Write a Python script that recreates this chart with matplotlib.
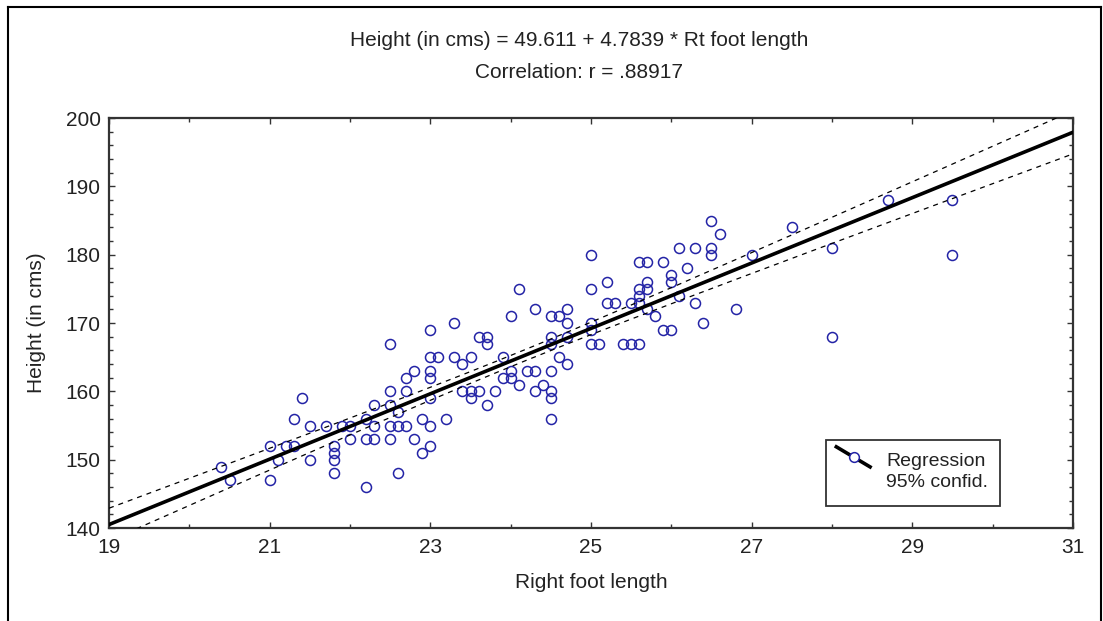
import numpy as np
import matplotlib
matplotlib.use("Agg")
import matplotlib.pyplot as plt
from matplotlib.lines import Line2D
from matplotlib.patches import Rectangle
from matplotlib.ticker import MultipleLocator

# ---- data ----
foot_length = [
    20.4, 20.5, 21.0, 21.0, 21.1, 21.2, 21.3, 21.3, 21.4, 21.5, 21.5, 21.7, 21.8, 21.8, 21.8, 21.8,
    21.9, 22.0, 22.0,
    22.2, 22.2, 22.2, 22.3, 22.3, 22.3, 22.5, 22.5, 22.5, 22.5, 22.5, 22.6, 22.6, 22.6,
    22.7, 22.7, 22.7, 22.8, 22.8, 22.9, 22.9, 23.0, 23.0, 23.0, 23.0, 23.0, 23.0, 23.0,
    23.1, 23.2, 23.3, 23.3, 23.4, 23.5, 23.4, 23.5, 23.5, 23.6, 23.6, 23.7, 23.7, 23.7,
    23.8, 23.9, 23.9, 24.0, 24.0, 24.0, 24.1, 24.1, 24.2, 24.3, 24.3, 24.3, 24.4,
    24.5, 24.5, 24.5, 24.5, 24.5, 24.5, 24.5, 24.6, 24.6, 24.7, 24.7, 24.7, 24.7,
    25.0, 25.0, 25.0, 25.0, 25.0, 25.1, 25.2, 25.2, 25.3, 25.4, 25.5, 25.5, 25.6, 25.6,
    25.7, 25.6, 25.6, 25.6, 25.7, 25.7, 25.7, 25.8, 25.9, 25.9, 26.0, 26.0, 26.0, 26.1,
    26.1, 26.2, 26.3, 26.3, 26.4, 26.5, 26.5, 26.5, 26.6, 26.8, 27.0, 27.5,
    28.0, 28.0, 28.7, 29.5, 29.5,
]
height_cm = [
    149, 147, 152, 147, 150, 152, 152, 156, 159, 155, 150, 155, 152, 151, 150, 148,
    155, 153, 155,
    156, 153, 146, 158, 155, 153, 167, 160, 158, 155, 153, 155, 157, 148,
    162, 160, 155, 163, 153, 156, 151, 169, 165, 163, 162, 159, 155, 152,
    165, 156, 170, 165, 164, 165, 160, 160, 159, 160, 168, 168, 167, 158,
    160, 165, 162, 162, 163, 171, 175, 161, 163, 163, 172, 160, 161,
    171, 168, 167, 163, 160, 159, 156, 171, 165, 172, 170, 164, 168,
    180, 175, 170, 169, 167, 167, 176, 173, 173, 167, 167, 173, 167, 179,
    179, 175, 174, 173, 176, 175, 172, 171, 179, 169, 169, 177, 176, 181,
    174, 178, 181, 173, 170, 185, 181, 180, 183, 172, 180, 184,
    181, 168, 188, 188, 180,
]
intercept = 49.611
slope = 4.7839
r_value = ".88917"
x_range = [19, 31]
y_range = [140, 200]
x_tick_labels = ["19", "21", "23", "25", "27", "29", "31"]
y_tick_labels = ["140", "150", "160", "170", "180", "190", "200"]

x = np.array(foot_length, dtype=float)
y = np.array(height_cm, dtype=float)

# regression line and 95% confidence band for the mean
xs = np.linspace(x_range[0], x_range[1], 200)
yfit = intercept + slope * xs
n = len(x)
resid = y - (intercept + slope * x)
s = np.sqrt(np.sum(resid ** 2) / (n - 2))
sxx = np.sum((x - x.mean()) ** 2)
tval = 1.978
band = tval * s * np.sqrt(1.0 / n + (xs - x.mean()) ** 2 / sxx)

FONT = ["Liberation Sans", "DejaVu Sans"]
plt.rcParams["font.family"] = FONT

W, H = 1103, 621
fig = plt.figure(figsize=(W / 100, H / 100), dpi=100)
ax = fig.add_axes([109 / W, 1 - 528 / H, (1073 - 109) / W, (528 - 118) / H])

ax.plot(x, y, linestyle="none", marker="o", markersize=7.2, markerfacecolor="none",
        markeredgecolor="#2323a6", markeredgewidth=1.1, zorder=3)
ax.plot(xs, yfit, color="black", linewidth=2.6, zorder=4)
ax.plot(xs, yfit + band, color="black", linewidth=0.9, linestyle=(0, (4, 4)), zorder=4)
ax.plot(xs, yfit - band, color="black", linewidth=0.9, linestyle=(0, (4, 4)), zorder=4)

ax.set_xlim(*x_range)
ax.set_ylim(*y_range)
ax.set_xticks([int(v) for v in x_tick_labels])
ax.set_xticklabels(x_tick_labels)
ax.set_yticks([int(v) for v in y_tick_labels])
ax.set_yticklabels(y_tick_labels)
ax.xaxis.set_minor_locator(MultipleLocator(1))
ax.yaxis.set_minor_locator(MultipleLocator(2))
ax.tick_params(axis="both", which="both", direction="in", colors="#333333",
               labelcolor="#222222", labelsize=15, top=True, right=True)
ax.tick_params(axis="both", which="major", length=4, width=1.0)
ax.tick_params(axis="both", which="minor", length=3, width=1.0)
ax.tick_params(axis="x", which="major", pad=7)
ax.tick_params(axis="y", which="major", pad=6)
for sp in ax.spines.values():
    sp.set_color("#333333")
    sp.set_linewidth(1.6)

ax.set_xlabel("Right foot length", fontsize=15, color="#222222", labelpad=12)
ax.set_ylabel("Height (in cms)", fontsize=15, color="#222222", labelpad=14)

fig.text(0.525, 1 - 40 / H, "Height (in cms) = %.3f + %.4f * Rt foot length" % (intercept, slope),
         ha="center", va="center", fontsize=15, color="#222222")
fig.text(0.525, 1 - 73 / H, "Correlation: r = " + r_value,
         ha="center", va="center", fontsize=15, color="#222222")

# custom legend box (axes fraction coordinates)
tr = ax.transAxes
ax.add_patch(Rectangle((0.744, 0.054), 0.180, 0.161, transform=tr, facecolor="white",
                       edgecolor="#333333", linewidth=1.3, zorder=5))
ax.add_line(Line2D([0.7545, 0.7895], [0.198, 0.149], transform=tr, color="black",
                   linewidth=2.6, zorder=6))
ax.add_line(Line2D([0.7725], [0.1735], transform=tr, marker="o", markersize=7,
                   markerfacecolor="white", markeredgecolor="#2323a6", markeredgewidth=1.1,
                   linestyle="none", zorder=7))
ax.text(0.8065, 0.137, "Regression\n95% confid.", transform=tr, ha="left", va="center",
        fontsize=14, color="#222222", linespacing=1.35, zorder=7)

# outer frame of the figure
fig.add_artist(Line2D([8 / W, 8 / W], [0, 1 - 7 / H], transform=fig.transFigure,
                      color="black", linewidth=1.5))
fig.add_artist(Line2D([8 / W, 1101 / W], [1 - 7 / H, 1 - 7 / H], transform=fig.transFigure,
                      color="black", linewidth=1.5))
fig.add_artist(Line2D([1101 / W, 1101 / W], [0, 1 - 7 / H], transform=fig.transFigure,
                      color="black", linewidth=1.5))

fig.savefig("out.png", dpi=100, facecolor="white")
